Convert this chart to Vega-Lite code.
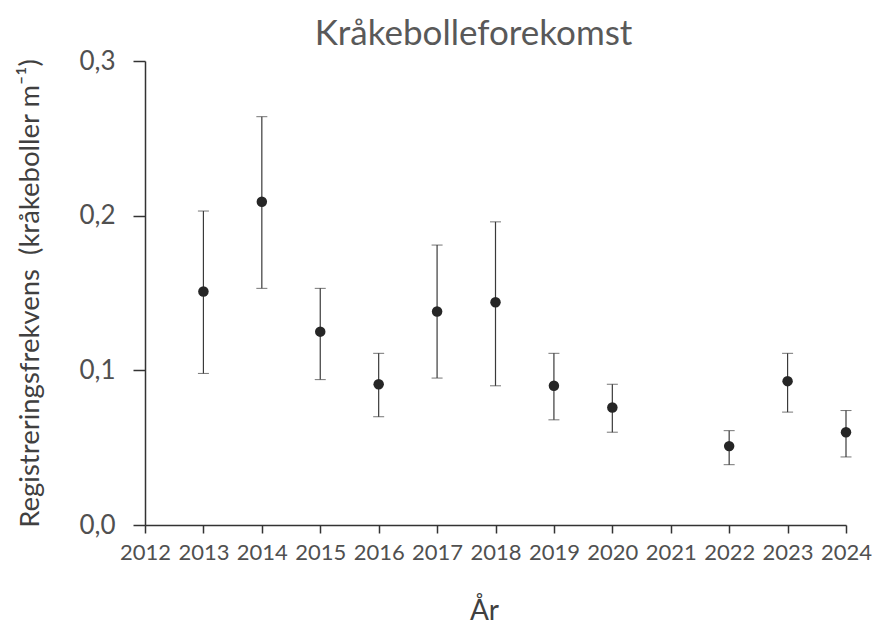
{
  "$schema": "https://vega.github.io/schema/vega-lite/v6.json",
  "width": 701,
  "height": 464,
  "autosize": "none",
  "padding": {"left": 145, "top": 61, "right": 26, "bottom": 110},
  "background": "white",
  "title": {"text": "Kråkebolleforekomst", "font": "Lato", "fontSize": 35, "fontWeight": "normal", "color": "#595959", "offset": 14, "dy": 18, "dx": -22},
  "config": {"view": {"stroke": null}, "axis": {"labelFont": "Lato", "titleFont": "Lato", "grid": false, "domainColor": "#333333", "tickColor": "#333333", "labelColor": "#505050", "titleColor": "#404040", "titleFontWeight": "normal"}},
  "data": {"values": [
    {"year": 2013, "mean": 0.151, "lower": 0.098, "upper": 0.203},
    {"year": 2014, "mean": 0.209, "lower": 0.153, "upper": 0.264},
    {"year": 2015, "mean": 0.125, "lower": 0.094, "upper": 0.153},
    {"year": 2016, "mean": 0.091, "lower": 0.070, "upper": 0.111},
    {"year": 2017, "mean": 0.138, "lower": 0.095, "upper": 0.181},
    {"year": 2018, "mean": 0.144, "lower": 0.090, "upper": 0.196},
    {"year": 2019, "mean": 0.090, "lower": 0.068, "upper": 0.111},
    {"year": 2020, "mean": 0.076, "lower": 0.060, "upper": 0.091},
    {"year": 2022, "mean": 0.051, "lower": 0.039, "upper": 0.061},
    {"year": 2023, "mean": 0.093, "lower": 0.073, "upper": 0.111},
    {"year": 2024, "mean": 0.060, "lower": 0.044, "upper": 0.074}
  ]},
  "layer": [
    {
      "mark": {"type": "errorbar", "ticks": {"size": 11, "color": "#3a3a3a", "strokeWidth": 1.2}, "rule": {"color": "#3a3a3a", "strokeWidth": 1.2}},
      "encoding": {
        "x": {"field": "year", "type": "quantitative", "scale": {"domain": [2012, 2024], "nice": false, "zero": false},
              "axis": {"title": "År", "values": [2012,2013,2014,2015,2016,2017,2018,2019,2020,2021,2022,2023,2024], "format": "d", "labelFontSize": 22, "titleFontSize": 28, "tickSize": 8, "labelPadding": 9, "titlePadding": 34, "titleX": 339, "domainWidth": 1.5, "tickWidth": 1.5, "labelFlush": false}},
        "y": {"field": "lower", "type": "quantitative", "scale": {"domain": [0, 0.3], "nice": false},
              "axis": {"title": "Registreringsfrekvens\u00a0 (kråkeboller m⁻¹)", "values": [0, 0.1, 0.2, 0.3], "labelExpr": "replace(format(datum.value, '.1f'), '.', ',')", "labelFontSize": 26, "titleFontSize": 27.5, "tickSize": 12, "labelPadding": 18, "titlePadding": 34, "domainWidth": 1.5, "tickWidth": 1.5}},
        "y2": {"field": "upper"}
      }
    },
    {
      "mark": {"type": "circle", "size": 110, "color": "#262626", "opacity": 1},
      "encoding": {
        "x": {"field": "year", "type": "quantitative"},
        "y": {"field": "mean", "type": "quantitative"}
      }
    }
  ]
}
